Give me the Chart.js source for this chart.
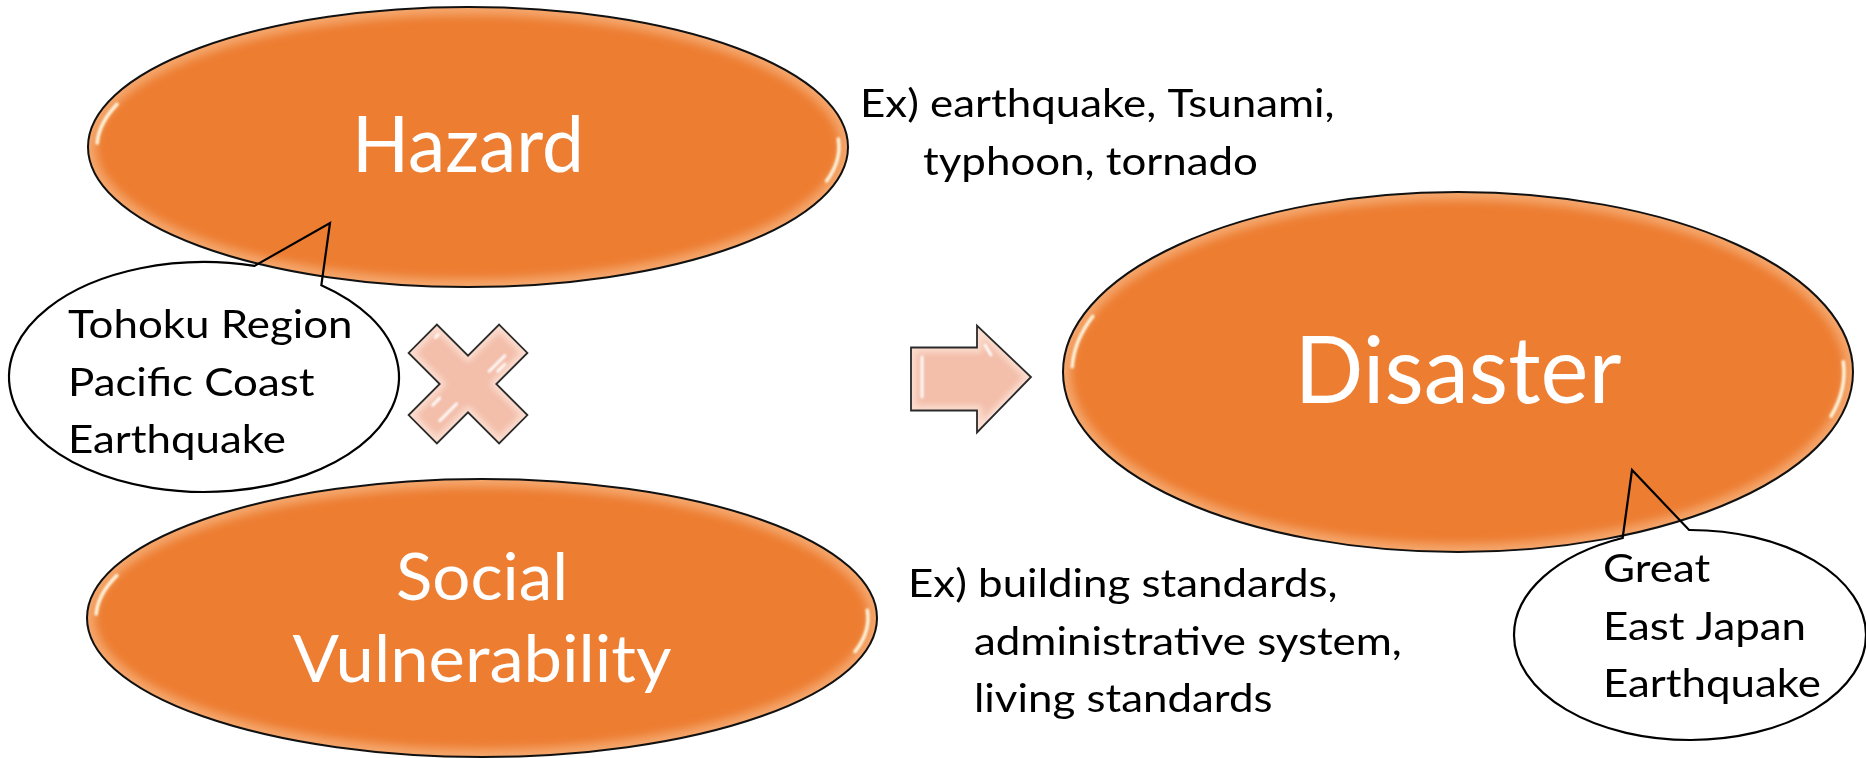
<!DOCTYPE html>
<html>
<head>
<meta charset="utf-8">
<script src="https://cdn.jsdelivr.net/npm/chart.js@4"></script>
<style>
  html, body { margin:0; padding:0; background:#fff; }
  #c { display:block; }
</style>
</head>
<body>
<canvas id="c" width="1866" height="758"></canvas>
<script>
/* ---------- diagram data ---------- */
const ovalLabels = [['Hazard'], ['Social', 'Vulnerability'], ['Disaster']];
const ovalX = [468, 482, 1458];
const ovalY = [147, 618, 372];

const calloutLabels = [['Tohoku Region', 'Pacific Coast', 'Earthquake'], ['Great', 'East Japan', 'Earthquake']];
const calloutX = [204, 1690];
const calloutY = [377, 635];
const tailTipX = [330, 1632];
const tailTipY = [223, 470];

const exampleLines = [['Ex) earthquake, Tsunami,', 'typhoon, tornado'],
                      ['Ex) building standards,', 'administrative system,', 'living standards']];
const exampleX = [860, 908];
const exampleY = [117, 597];

const operatorNames = ['multiply', 'arrow'];
const operatorX = [468, 971];
const operatorY = [384, 379];

/* ---------- look ---------- */
const FONT = 'Lato, "Open Sans", sans-serif';
const ORANGE = '#ED7D31';
const PINK = '#F3BEAA';
const OVAL_STYLE = [
  { rx:380, ry:140, cap:57, w:[232], dy:[25] },
  { rx:395, ry:139, cap:48, w:[172, 379], dy:[-18, 64] },
  { rx:395, ry:180, cap:68, w:[327], dy:[31] }
];
const CALLOUT_STYLE = [
  { rx:195, ry:115, tail:[-75, -53], dx:-136, dy:-39 },
  { rx:176, ry:105, tail:[-112.5, -90.3], dx:-87, dy:-53 }
];
const EX_INDENT = [63, 66];
const LINE_H = 57.5;
const BODY_CAP = 27.5;

function sizeForCap(ctx, cap){
  ctx.font = '100px ' + FONT;
  const a = ctx.measureText('H').actualBoundingBoxAscent || 72;
  return cap * 100 / a;
}
let bodySize = 38, bodySx = 1;
function text(ctx, str, x, y, size, sx, align, color){
  ctx.save();
  ctx.font = size.toFixed(2) + 'px ' + FONT;
  ctx.fillStyle = color; ctx.textAlign = align; ctx.textBaseline = 'alphabetic';
  ctx.translate(x, y); ctx.scale(sx, 1);
  ctx.fillText(str, 0, 0);
  ctx.restore();
}

function ellipsePath(ctx, x, y, rx, ry){ ctx.beginPath(); ctx.ellipse(x, y, rx, ry, 0, 0, Math.PI*2); }

function drawOval(ctx, x, y, rx, ry){
  ctx.save();
  ellipsePath(ctx, x, y, rx, ry);
  ctx.fillStyle = ORANGE; ctx.fill();
  ctx.clip();
  ctx.filter = 'blur(5px)';
  ellipsePath(ctx, x, y, rx, ry);
  ctx.lineWidth = 16; ctx.strokeStyle = 'rgba(250,195,150,0.6)'; ctx.stroke();
  ctx.filter = 'blur(1.2px)';
  ctx.strokeStyle = 'rgba(255,252,230,0.95)'; ctx.lineWidth = 3.5; ctx.lineCap = 'round';
  ctx.beginPath(); ctx.ellipse(x, y, rx-9, ry-8, 0, Math.PI+0.03, Math.PI+0.33); ctx.stroke();
  ctx.beginPath(); ctx.ellipse(x, y, rx-9, ry-8, 0, -0.06, 0.26); ctx.stroke();
  ctx.restore();
  ellipsePath(ctx, x, y, rx, ry);
  ctx.lineWidth = 2; ctx.strokeStyle = '#111'; ctx.stroke();
}

function bevel(ctx, pathFn, streaks){
  ctx.save();
  pathFn(); ctx.fillStyle = PINK; ctx.fill();
  ctx.clip();
  ctx.filter = 'blur(3px)';
  pathFn(); ctx.lineWidth = 10; ctx.strokeStyle = 'rgba(255,235,225,0.7)'; ctx.stroke();
  ctx.filter = 'blur(0.8px)';
  ctx.strokeStyle = 'rgba(255,255,255,0.95)'; ctx.lineWidth = 3; ctx.lineCap = 'round';
  streaks.forEach(s => { ctx.beginPath(); ctx.moveTo(s[0], s[1]); ctx.lineTo(s[2], s[3]); ctx.stroke(); });
  ctx.restore();
  pathFn(); ctx.lineWidth = 1.8; ctx.strokeStyle = '#2a2a2a'; ctx.stroke();
}

function drawMultiply(ctx, cx, cy){
  const L = 64, w = 20, c = Math.SQRT1_2;
  const pts = [[-w,-L],[w,-L],[w,-w],[L,-w],[L,w],[w,w],[w,L],[-w,L],[-w,w],[-L,w],[-L,-w],[-w,-w]];
  const rot = p => [cx + (p[0]-p[1])*c, cy + (p[0]+p[1])*c];
  const path = () => { ctx.beginPath(); pts.map(rot).forEach((p,i)=> i ? ctx.lineTo(p[0],p[1]) : ctx.moveTo(p[0],p[1])); ctx.closePath(); };
  const s = (a,b,d,e) => { const p = rot([a,b]), q = rot([d,e]); return [p[0],p[1],q[0],q[1]]; };
  bevel(ctx, path, [s(6,-46,6,-24), s(12,-40,12,-30), s(6,22,6,46), s(-10,30,-10,40), s(-L+8,-w+6,-L+8,-w+10)]);
}

function drawArrow(ctx, cx, cy){
  const pts = [[-60,-31.5],[6,-31.5],[6,-53.5],[60,-2],[6,53.5],[6,31.5],[-60,31.5]];
  const path = () => { ctx.beginPath(); pts.forEach((p,i)=> i ? ctx.lineTo(cx+p[0],cy+p[1]) : ctx.moveTo(cx+p[0],cy+p[1])); ctx.closePath(); };
  bevel(ctx, path, [[cx-49,cy-22,cx-49,cy+18],[cx+14,cy-34,cx+20,cy-24],[cx+20,cy+40,cx+44,cy+16]]);
}

function drawCallout(ctx, x, y, rx, ry, tail, tx, ty){
  const a0 = tail[0]*Math.PI/180, a1 = tail[1]*Math.PI/180;
  ctx.beginPath();
  ctx.ellipse(x, y, rx, ry, 0, a1, a0, false);
  ctx.lineTo(tx, ty);
  ctx.closePath();
  ctx.lineWidth = 2.2; ctx.strokeStyle = '#000'; ctx.stroke();
}

const diagram = {
  id: 'diagram',
  afterDatasetsDraw(chart){
    const ctx = chart.ctx, xs = chart.scales.x, ys = chart.scales.y;
    const px = (v, d) => xs.getPixelForValue(v + d) - xs.getPixelForValue(v);
    const py = (v, d) => ys.getPixelForValue(v + d) - ys.getPixelForValue(v);

    // body font: cap height + condensing to match the slide's narrow face
    bodySize = sizeForCap(ctx, BODY_CAP);
    ctx.font = bodySize + 'px ' + FONT;
    bodySx = 218 / ctx.measureText('Earthquake').width;

    const ovals = chart.getDatasetMeta(0).data;
    ovals.forEach((el, i) => {
      const st = OVAL_STYLE[i];
      drawOval(ctx, el.x, el.y, px(ovalX[i], st.rx), Math.abs(py(ovalY[i], st.ry)));
      const size = sizeForCap(ctx, st.cap);
      ovalLabels[i].forEach((s, j) => {
        ctx.font = size + 'px ' + FONT;
        const sx = st.w[j] / ctx.measureText(s).width;
        text(ctx, s, el.x, el.y + st.dy[j], size, sx, 'center', '#fff');
      });
    });

    const ops = chart.getDatasetMeta(1).data;
    drawMultiply(ctx, ops[0].x, ops[0].y);
    drawArrow(ctx, ops[1].x, ops[1].y);

    const cs = chart.getDatasetMeta(2).data;
    cs.forEach((el, i) => {
      const st = CALLOUT_STYLE[i];
      drawCallout(ctx, el.x, el.y, px(calloutX[i], st.rx), Math.abs(py(calloutY[i], st.ry)), st.tail,
        xs.getPixelForValue(tailTipX[i]), ys.getPixelForValue(tailTipY[i]));
      calloutLabels[i].forEach((s, j) => text(ctx, s, el.x + st.dx, el.y + st.dy + j*LINE_H, bodySize, bodySx, 'left', '#000'));
    });

    const ex = chart.getDatasetMeta(3).data;
    ex.forEach((el, i) => {
      exampleLines[i].forEach((s, j) => text(ctx, s, el.x + (j ? EX_INDENT[i] : 0), el.y + j*LINE_H, bodySize, bodySx, 'left', '#000'));
    });
  }
};

const pts = (xa, ya) => xa.map((x, i) => ({ x, y: ya[i] }));
new Chart(document.getElementById('c'), {
  type: 'scatter',
  data: { datasets: [
    { label: 'ovals', data: pts(ovalX, ovalY), pointRadius: 0 },
    { label: 'operators', data: pts(operatorX, operatorY), pointRadius: 0 },
    { label: 'callouts', data: pts(calloutX, calloutY), pointRadius: 0 },
    { label: 'examples', data: pts(exampleX, exampleY), pointRadius: 0 }
  ]},
  options: {
    responsive: false, devicePixelRatio: 1, animation: false,
    layout: { padding: 0 },
    plugins: { legend: { display: false }, tooltip: { enabled: false } },
    scales: {
      x: { type: 'linear', min: 0, max: 1866, display: false },
      y: { type: 'linear', min: 0, max: 758, reverse: true, display: false }
    }
  },
  plugins: [diagram]
});
</script>
</body>
</html>
